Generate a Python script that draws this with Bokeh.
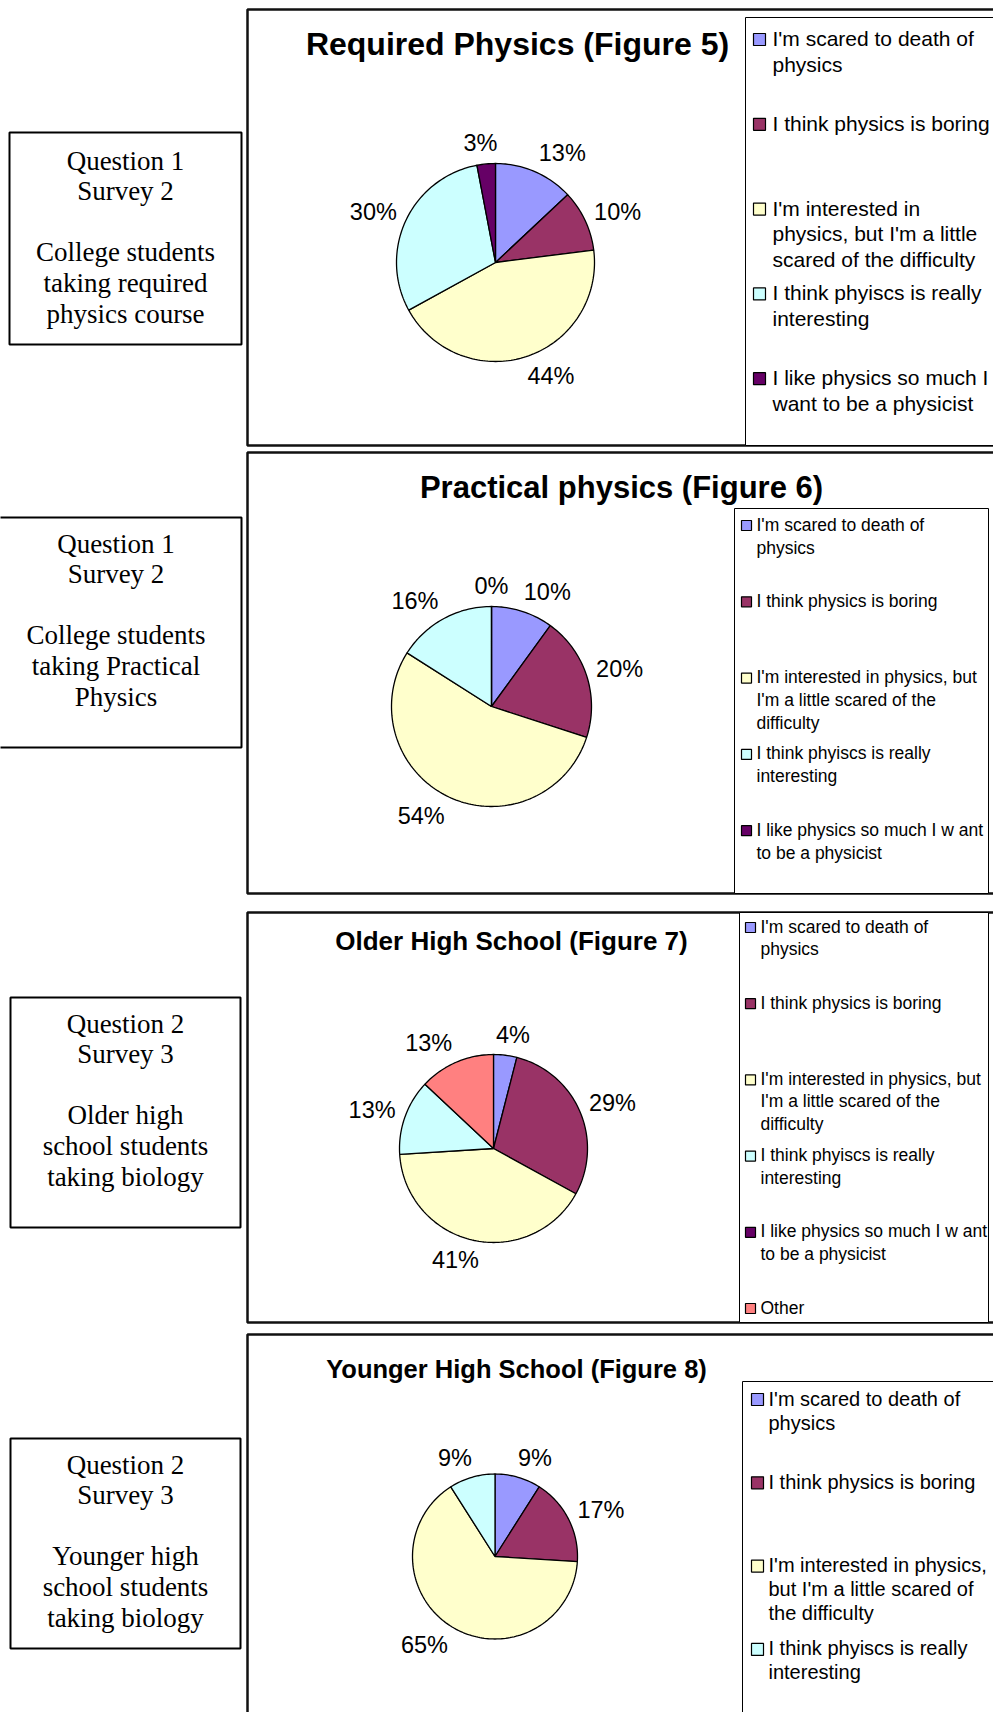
import numpy as np
from bokeh.plotting import figure
from bokeh.models import Range1d
from bokeh.core.properties import value
from bokeh.embed import file_html
from bokeh.resources import INLINE

# ---------------- data ----------------
categories = [
    "I'm scared to death of physics",
    "I think physics is boring",
    "I'm interested in physics, but I'm a little scared of the difficulty",
    "I think phyiscs is really interesting",
    "I like physics so much I want to be a physicist",
    "Other",
]
colors = ["#9999FF", "#993366", "#FFFFCC", "#CCFFFF", "#660066", "#FF8080"]

fig5_values = [13, 10, 44, 30, 3]
fig6_values = [10, 20, 54, 16, 0]
fig7_values = [4, 29, 41, 13, None, 13]
fig8_values = [9, 17, 65, 9]

titles = [
    "Required Physics (Figure 5)",
    "Practical physics (Figure 6)",
    "Older High School (Figure 7)",
    "Younger High School (Figure 8)",
]

side_notes = [
    ["Question 1", "Survey 2", "", "College students", "taking required", "physics course"],
    ["Question 1", "Survey 2", "", "College students", "taking Practical", "Physics"],
    ["Question 2", "Survey 3", "", "Older high", "school students", "taking biology"],
    ["Question 2", "Survey 3", "", "Younger high", "school students", "taking biology"],
]

# legend labels as wrapped in each chart
legend5 = [["I'm scared to death of", "physics"],
           ["I think physics is boring"],
           ["I'm interested in", "physics, but I'm a little", "scared of the difficulty"],
           ["I think phyiscs is really", "interesting"],
           ["I like physics so much I", "want to be a physicist"]]
legend6 = [["I'm scared to death of", "physics"],
           ["I think physics is boring"],
           ["I'm interested in physics, but", "I'm a little scared of the", "difficulty"],
           ["I think phyiscs is really", "interesting"],
           ["I like physics so much I w ant", "to be a physicist"]]
legend7 = legend6 + [["Other"]]
legend8 = [["I'm scared to death of", "physics"],
           ["I think physics is boring"],
           ["I'm interested in physics,", "but I'm a little scared of", "the difficulty"],
           ["I think phyiscs is really", "interesting"]]

# ---------------- layout (page pixels) ----------------
panels = [
    dict(values=fig5_values, legend=legend5, title=titles[0],
         box=(247, 1010, 9, 445), title_xy=(517, 43), title_fs=32,
         pie=(495, 262, 99),
         leg_box=(745, 1010, 17, 445), leg_first=38, leg_step=84.8, leg_lh=25.5,
         leg_fs=21, sq=12, sq_x=753, txt_x=772,
         note_box=(9, 241, 132, 344), note_first=160),
    dict(values=fig6_values, legend=legend6, title=titles[1],
         box=(247, 1010, 452, 893), title_xy=(621, 487), title_fs=31,
         pie=(491, 706, 100),
         leg_box=(734, 988, 508, 893), leg_first=524, leg_step=76.3, leg_lh=23,
         leg_fs=17.5, sq=10, sq_x=741, txt_x=756,
         note_box=(-10, 241, 517, 747), note_first=543),
    dict(values=fig7_values, legend=legend7, title=titles[2],
         box=(247, 1010, 912, 1322), title_xy=(511, 940), title_fs=26,
         pie=(493, 1148, 94),
         leg_box=(739, 988, 912, 1322), leg_first=926, leg_step=76.2, leg_lh=22.5,
         leg_fs=17.5, sq=10, sq_x=745, txt_x=760,
         note_box=(10, 240, 997, 1227), note_first=1023),
    dict(values=fig8_values, legend=legend8, title=titles[3],
         box=(247, 1010, 1334, 1760), title_xy=(516, 1368), title_fs=25.5,
         pie=(494.5, 1556, 82.5),
         leg_box=(742, 1010, 1381, 1760), leg_first=1398, leg_step=83.3, leg_lh=24,
         leg_fs=20, sq=12, sq_x=751, txt_x=768,
         note_box=(10, 240, 1438, 1648), note_first=1464),
]

W, H = 993, 1712
p = figure(width=W, height=H, x_range=Range1d(0, W), y_range=Range1d(H, 0),
           output_backend="svg", toolbar_location=None, min_border=0)
p.axis.visible = False
p.grid.visible = False
p.outline_line_color = None
p.background_fill_color = "white"
p.border_fill_color = "white"

SANS = value("Liberation Sans")
SERIF = value("Liberation Serif")
LABEL_FS = 23.5

for i, pn in enumerate(panels):
    # outer chart box
    l, r, t, b = pn["box"]
    p.quad(left=[l], right=[r], top=[t], bottom=[b], fill_color="white",
           line_color="#111111", line_width=2.5)
    # legend box
    l2, r2, t2, b2 = pn["leg_box"]
    p.quad(left=[l2], right=[r2], top=[t2], bottom=[b2], fill_color="white",
           line_color="#000000", line_width=1)
    # title
    tx, ty = pn["title_xy"]
    p.text(x=[tx], y=[ty], text=[pn["title"]], text_font=SANS, text_font_style="bold",
           text_font_size=f"{pn['title_fs']}px", text_align="center",
           text_baseline="middle", text_color="black")

    # pie
    cx, cy, rad = pn["pie"]
    vals = pn["values"]
    total = sum(v for v in vals if v is not None)
    cum = 0.0
    xs, ys, fills = [], [], []
    lx, ly, lt = [], [], []
    for k, v in enumerate(vals):
        if v is None:
            continue
        t0 = cum / total * 2 * np.pi
        t1 = (cum + v) / total * 2 * np.pi
        n = max(2, int((t1 - t0) / (2 * np.pi) * 240) + 2)
        tt = np.linspace(t0, t1, n)
        xs.append([cx] + list(cx + rad * np.sin(tt)))
        ys.append([cy] + list(cy - rad * np.cos(tt)))
        fills.append(colors[k])
        # label outside at mid-angle
        tm = (t0 + t1) / 2
        s, c = np.sin(tm), np.cos(tm)
        txt = f"{v}%"
        w = LABEL_FS * (0.556 * (len(txt) - 1) + 0.889)
        h = LABEL_FS * 0.9
        g = 10
        px = cx + (rad + g) * s
        py = cy - (rad + g) * c
        lx.append(px + w / 2 * float(np.clip(3 * s, -1, 1)))
        ly.append(py - h / 2 * c)
        lt.append(txt)
        cum += v
    p.patches(xs=xs, ys=ys, fill_color=fills, line_color="black", line_width=1.3)
    p.text(x=lx, y=ly, text=lt, text_font=SANS, text_font_size=f"{LABEL_FS}px",
           text_align="center", text_baseline="middle", text_color="black")

    # legend entries
    sq = pn["sq"]
    sqx = pn["sq_x"]
    q_l, q_r, q_t, q_b, q_c = [], [], [], [], []
    tx_l, ty_l, tt_l = [], [], []
    for k, lines in enumerate(pn["legend"]):
        y0 = pn["leg_first"] + k * pn["leg_step"]
        q_l.append(sqx)
        q_r.append(sqx + sq)
        q_t.append(y0 + 1 - sq / 2)
        q_b.append(y0 + 1 + sq / 2)
        q_c.append(colors[k])
        for j, line in enumerate(lines):
            tx_l.append(pn["txt_x"])
            ty_l.append(y0 + j * pn["leg_lh"])
            tt_l.append(line)
    p.quad(left=q_l, right=q_r, top=q_t, bottom=q_b, fill_color=q_c,
           line_color="black", line_width=1.2)
    p.text(x=tx_l, y=ty_l, text=tt_l, text_font=SANS, text_font_size=f"{pn['leg_fs']}px",
           text_align="left", text_baseline="middle", text_color="black")

    # side note box
    nl, nr, nt, nb = pn["note_box"]
    p.quad(left=[nl], right=[nr], top=[nt], bottom=[nb], fill_color="white",
           line_color="black", line_width=2)
    ncx = (max(nl, -10) + nr) / 2
    nx, ny, ntx = [], [], []
    for j, line in enumerate(side_notes[i]):
        if line:
            nx.append(ncx)
            ny.append(pn["note_first"] + j * 30.6)
            ntx.append(line)
    p.text(x=nx, y=ny, text=ntx, text_font=SERIF, text_font_size="27px",
           text_align="center", text_baseline="middle", text_color="black")

open("out.html", "w").write(file_html(p, INLINE))
